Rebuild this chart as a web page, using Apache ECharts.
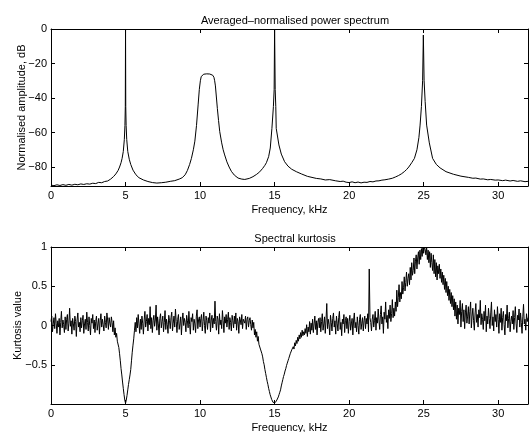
<!DOCTYPE html>
<html>
<head>
<meta charset="utf-8">
<script src="https://cdn.jsdelivr.net/npm/echarts@6/dist/echarts.min.js"></script>
<style>
  html, body { margin: 0; padding: 0; background: #fff; }
  #chart { width: 529px; height: 432px; }
</style>
</head>
<body>
<div id="chart"></div>
<script>
// top plot: averaged-normalised power spectrum (kHz, dB)
var specFreq = [
  0.0, 0.2, 0.4, 0.6, 0.8, 1.0, 1.2, 1.4, 1.6, 1.8, 2.0, 2.2, 2.4, 2.6, 2.8, 3.0, 3.2, 3.4, 3.6, 3.8,
  4.0, 4.2, 4.35, 4.5, 4.6, 4.7, 4.77, 4.85, 4.92, 4.96, 4.985, 5.0, 5.015, 5.04, 5.08, 5.15, 5.25, 5.35, 5.5, 5.7, 5.9,
  6.2, 6.5, 6.8, 7.1, 7.4, 7.7, 8.0, 8.3, 8.6, 8.8, 9.0, 9.15, 9.3, 9.42, 9.55, 9.65, 9.76, 9.87, 9.95,
  10.02, 10.08, 10.15, 10.25, 10.35, 10.45, 10.55, 10.65, 10.75, 10.85, 10.93, 10.98, 11.03, 11.1, 11.16, 11.24, 11.32,
  11.45, 11.55, 11.65, 11.8, 11.95, 12.1, 12.3, 12.55, 12.8, 13.0, 13.3, 13.55, 13.8, 14.0, 14.2, 14.35, 14.45, 14.6,
  14.71, 14.82, 14.92, 14.97, 15.0, 15.04, 15.08, 15.11, 15.29, 15.45, 15.67, 15.9, 16.15, 16.46, 16.8, 17.2, 17.8,
  18.1, 18.4, 18.7, 19.1, 19.4, 19.6, 19.8, 20.0, 20.2, 20.4, 20.6, 20.8, 21.0, 21.2, 21.4, 21.6, 21.8, 22.0, 22.2, 22.4,
  22.65, 22.9, 23.1, 23.3, 23.5, 23.7, 23.85, 24.0, 24.2, 24.38, 24.55, 24.68, 24.76, 24.85, 24.93, 24.98, 25.03, 25.1,
  25.2, 25.38, 25.6, 25.85, 26.1, 26.5, 27.0, 27.5, 28.0, 28.3, 28.5, 28.8, 29.0, 29.3, 29.5, 29.8, 30.0, 30.3, 30.5,
  30.8, 31.0, 31.3, 31.5, 31.8, 32.0
];
var specDb = [
  -90.5, -90.8, -90.3, -90.7, -90.2, -90.6, -90.1, -90.5, -90.0, -90.3, -89.8, -90.1, -89.7, -89.9, -89.4, -89.6, -88.9, -89.1, -88.4, -88.1,
  -87.0, -85.5, -84.0, -82.0, -80.0, -77.5, -75.0, -71.0, -64.0, -56.0, -45.0, 0.0, -45.0, -56.0, -64.0, -71.0, -75.5, -78.5, -81.8, -84.5, -86.2,
  -87.5, -88.4, -89.0, -89.3, -89.1, -88.8, -88.3, -87.9, -87.0, -86.2, -84.5, -82.0, -78.5, -75.0, -70.0, -65.0, -56.0, -44.0, -35.0,
  -30.0, -27.5, -26.6, -26.2, -26.5, -26.0, -26.4, -26.1, -26.5, -26.8, -28.0, -30.0, -33.0, -40.0, -46.0, -53.0, -59.5,
  -66.0, -70.0, -73.0, -77.0, -80.0, -82.5, -84.7, -86.4, -87.0, -87.2, -86.6, -85.6, -84.2, -82.8, -80.8, -79.0, -77.5, -74.0,
  -69.0, -57.6, -45.0, -35.0, 0.0, -35.0, -45.0, -57.6, -67.2, -72.5, -76.9, -79.5, -81.3, -82.7, -84.0, -85.4, -86.6,
  -86.9, -87.5, -87.3, -88.0, -88.4, -88.2, -88.8, -89.0, -88.6, -89.1, -88.7, -89.2, -88.8, -88.9, -88.4, -88.6, -88.1, -88.0, -87.6, -87.4,
  -87.0, -86.5, -85.8, -85.0, -84.0, -82.7, -81.5, -80.0, -77.5, -75.0, -70.0, -63.0, -55.7, -45.0, -30.0, -3.5, -30.0, -42.0,
  -55.7, -66.0, -75.0, -78.5, -80.5, -82.7, -84.2, -85.3, -86.0, -86.5, -86.4, -87.0, -86.9, -87.4, -87.2, -87.6, -87.5, -87.9, -87.6,
  -88.1, -87.8, -88.3, -88.0, -88.5, -88.3
];

// bottom plot: spectral kurtosis, one value every 0.05 kHz from 0 to 32 kHz (one row per kHz)
var kurtStep = 0.05;
var kurtValues = [
  0.05, 0.12, -0.08, 0.02, 0.10, -0.04, 0.15, 0.03, -0.10, 0.06, -0.02, 0.09, -0.12, 0.04, 0.18, -0.03, 0.07, 0.01, -0.09, 0.11,
  -0.05, 0.08, 0.14, -0.07, 0.03, 0.22, -0.01, 0.06, -0.11, 0.09, 0.02, -0.06, 0.12, 0.05, -0.14, 0.07, 0.16, -0.02, 0.04, -0.08,
  0.10, -0.03, 0.06, 0.13, -0.10, 0.02, 0.08, -0.05, 0.17, 0.04, -0.07, 0.11, 0.00, -0.12, 0.09, 0.03, 0.14, -0.04, 0.07, -0.09,
  0.05, 0.12, -0.06, 0.02, 0.09, -0.11, 0.06, 0.15, -0.02, 0.08, 0.01, -0.07, 0.12, 0.04, -0.03, 0.16, 0.07, -0.05, 0.10, 0.03,
  -0.02, 0.11, 0.04, -0.08, 0.06, -0.12, -0.03, -0.15, -0.10, -0.20, -0.22, -0.28, -0.36, -0.45, -0.55, -0.63, -0.72, -0.80, -0.88, -0.95,
  -0.99, -0.95, -0.89, -0.82, -0.75, -0.69, -0.63, -0.56, -0.45, -0.34, -0.25, -0.17, -0.06, 0.04, -0.08, 0.10, -0.03, 0.14, 0.02, -0.10,
  0.08, -0.05, 0.12, 0.03, -0.11, 0.07, 0.18, -0.02, 0.05, 0.14, -0.07, 0.09, 0.01, 0.24, -0.04, 0.10, -0.09, 0.06, 0.13, -0.01,
  0.07, 0.26, -0.06, 0.11, 0.02, -0.12, 0.09, 0.15, -0.03, 0.05, 0.12, -0.08, 0.04, 0.19, -0.05, 0.08, 0.01, -0.10, 0.13, 0.06,
  -0.04, 0.10, 0.17, -0.07, 0.03, 0.12, -0.02, 0.21, 0.05, -0.09, 0.08, 0.14, -0.05, 0.02, 0.11, -0.12, 0.07, 0.16, 0.00, 0.09,
  0.04, -0.08, 0.13, 0.06, -0.03, 0.18, 0.01, -0.11, 0.10, 0.05, 0.15, -0.06, 0.08, 0.02, -0.09, 0.12, 0.20, -0.04, 0.07, 0.11,
  -0.02, 0.09, 0.14, -0.07, 0.05, 0.17, 0.00, -0.10, 0.12, 0.06, -0.05, 0.10, 0.03, 0.16, -0.08, 0.07, 0.13, -0.03, 0.09, 0.02,
  0.31, 0.05, -0.06, 0.12, 0.08, -0.11, 0.15, 0.01, 0.07, -0.04, 0.19, 0.06, -0.09, 0.11, 0.03, 0.14, -0.02, 0.08, 0.17, -0.05,
  0.10, 0.04, -0.07, 0.13, 0.06, -0.03, 0.12, 0.02, 0.16, -0.06, 0.09, 0.05, -0.10, 0.11, 0.07, 0.01, 0.14, -0.04, 0.08, 0.10,
  0.03, 0.12, -0.05, 0.08, 0.11, -0.02, 0.06, 0.10, 0.01, -0.06, 0.07, -0.03, 0.04, -0.12, -0.05, -0.15, -0.08, -0.20, -0.14, -0.24,
  -0.22, -0.30, -0.28, -0.36, -0.40, -0.46, -0.50, -0.56, -0.61, -0.66, -0.71, -0.75, -0.80, -0.84, -0.88, -0.91, -0.94, -0.96, -0.98, -0.99,
  -0.99, -0.98, -0.97, -0.95, -0.93, -0.91, -0.88, -0.85, -0.82, -0.77, -0.73, -0.69, -0.65, -0.62, -0.58, -0.55, -0.51, -0.48, -0.45, -0.42,
  -0.40, -0.36, -0.38, -0.31, -0.33, -0.27, -0.30, -0.22, -0.26, -0.19, -0.23, -0.15, -0.20, -0.12, -0.17, -0.09, -0.15, -0.06, -0.13, -0.08,
  -0.12, -0.04, -0.10, 0.01, -0.14, -0.02, -0.08, 0.05, -0.11, 0.03, -0.06, 0.08, -0.09, 0.02, 0.12, -0.05, 0.06, -0.12, 0.04, 0.09,
  -0.03, 0.10, -0.08, 0.05, 0.15, -0.06, 0.02, 0.11, -0.10, 0.07, 0.28, -0.04, 0.08, 0.01, -0.12, 0.13, 0.04, -0.07, 0.09, 0.16,
  -0.02, 0.06, -0.11, 0.12, 0.03, -0.07, 0.10, 0.18, -0.05, 0.04, -0.13, 0.08, 0.02, 0.14, -0.09, 0.06, 0.11, -0.04, 0.09, -0.10,
  0.05, 0.13, -0.06, 0.02, 0.09, -0.12, 0.07, 0.16, -0.03, 0.04, -0.08, 0.11, 0.00, -0.11, 0.08, 0.14, -0.05, 0.03, 0.10, -0.07,
  0.06, 0.12, -0.04, 0.09, 0.02, 0.15, -0.08, 0.72, 0.10, 0.04, -0.07, 0.08, 0.14, -0.02, 0.06, 0.18, -0.06, 0.10, 0.03, 0.21,
  0.07, -0.05, 0.14, 0.25, 0.02, 0.11, -0.10, 0.17, 0.08, 0.30, 0.04, 0.13, -0.04, 0.20, 0.09, 0.26, 0.05, 0.15, 0.33, 0.10,
  0.22, 0.12, 0.30, 0.18, 0.45, 0.24, 0.36, 0.52, 0.30, 0.42, 0.34, 0.56, 0.40, 0.48, 0.62, 0.44, 0.55, 0.68, 0.50, 0.60,
  0.66, 0.52, 0.74, 0.58, 0.80, 0.64, 0.70, 0.86, 0.66, 0.82, 0.90, 0.72, 0.86, 0.94, 0.78, 0.96, 0.84, 0.98, 0.88, 1.00,
  0.92, 1.00, 0.97, 0.90, 1.00, 0.84, 0.96, 0.80, 0.94, 0.74, 0.92, 0.80, 0.70, 0.90, 0.66, 0.84, 0.62, 0.80, 0.58, 0.76,
  0.66, 0.78, 0.60, 0.72, 0.55, 0.68, 0.52, 0.64, 0.46, 0.60, 0.42, 0.56, 0.38, 0.50, 0.32, 0.46, 0.28, 0.42, 0.24, 0.38,
  0.20, 0.34, 0.12, 0.30, 0.08, 0.26, 0.02, 0.22, 0.14, 0.32, -0.02, 0.18, 0.28, 0.05, 0.20, -0.04, 0.16, 0.26, 0.03, 0.12,
  0.24, 0.02, 0.18, 0.30, -0.03, 0.12, 0.22, 0.06, -0.06, 0.16, 0.28, 0.04, 0.14, -0.02, 0.20, 0.10, 0.32, 0.01, 0.15, 0.08,
  -0.05, 0.18, 0.06, 0.26, -0.08, 0.12, 0.02, 0.22, 0.09, -0.04, 0.16, 0.30, 0.00, 0.11, -0.07, 0.20, 0.05, 0.14, -0.02, 0.24,
  0.08, -0.10, 0.15, 0.04, 0.22, -0.06, 0.10, 0.18, 0.01, -0.12, 0.14, 0.06, 0.26, -0.03, 0.09, 0.17, -0.08, 0.05, 0.12, 0.02,
  0.19, -0.05, 0.10, 0.24, 0.03, -0.09, 0.13, 0.07, 0.21, -0.02, 0.16, 0.04, -0.10, 0.11, 0.27, 0.02, 0.08, -0.06, 0.15, 0.05,
  0.10
];

var dbTicks = [-80, -60, -40, -20, 0];
var kurtTicks = [-0.5, 0, 0.5, 1];

var font = 'Liberation Sans, Arial, Helvetica, sans-serif';

var specData = specFreq.map(function (f, i) { return [f, specDb[i]]; });
var kurtData = kurtValues.map(function (v, i) { return [+(i * kurtStep).toFixed(2), v]; });

function xAx(grid, pos, withLabels) {
  return {
    type: 'value', gridIndex: grid, position: pos, min: 0, max: 32, interval: 5,
    name: withLabels ? 'Frequency, kHz' : '', nameLocation: 'middle', nameGap: 18, nameMoveOverlap: false,
    nameTextStyle: { fontFamily: font, fontSize: 11, color: '#000' },
    axisLine: { show: true, onZero: false, lineStyle: { color: '#000', width: 1 } },
    axisTick: { show: true, inside: true, length: 4, lineStyle: { color: '#000' } },
    axisLabel: { show: withLabels, margin: 4, fontFamily: font, fontSize: 11, color: '#000',
      showMinLabel: true, showMaxLabel: false },
    splitLine: { show: false }
  };
}

function yAx(grid, pos, min, max, ticks, name, gap, withLabels) {
  return {
    type: 'value', gridIndex: grid, position: pos, min: min, max: max,
    name: withLabels ? name : '', nameLocation: 'middle', nameGap: gap, nameMoveOverlap: false,
    nameTextStyle: { fontFamily: font, fontSize: 11, color: '#000' },
    axisLine: { show: true, onZero: false, lineStyle: { color: '#000', width: 1 } },
    axisTick: { show: true, inside: true, length: 4, customValues: ticks, lineStyle: { color: '#000' } },
    axisLabel: { show: withLabels, margin: 4, fontFamily: font, fontSize: 11, color: '#000',
      customValues: ticks,
      formatter: function (v) { return String(v).replace('-', '\u2212'); } },
    splitLine: { show: false }
  };
}

var chart = echarts.init(document.getElementById('chart'), null, { renderer: 'canvas' });
chart.setOption({
  animation: false,
  backgroundColor: '#fff',
  title: [
    { text: 'Averaged\u2013normalised power spectrum', left: 290, top: 10, textAlign: 'center',
      textStyle: { fontFamily: font, fontSize: 11, fontWeight: 'normal', color: '#000' } },
    { text: 'Spectral kurtosis', left: 290, top: 228, textAlign: 'center',
      textStyle: { fontFamily: font, fontSize: 11, fontWeight: 'normal', color: '#000' } }
  ],
  grid: [
    { left: 51, right: 1, top: 29, height: 157, containLabel: false, outerBoundsMode: 'none' },
    { left: 51, right: 1, top: 247, height: 157, containLabel: false, outerBoundsMode: 'none' }
  ],
  xAxis: [
    xAx(0, 'bottom', true),
    xAx(0, 'top', false),
    xAx(1, 'bottom', true),
    xAx(1, 'top', false)
  ],
  yAxis: [
    yAx(0, 'left', -91, 0, dbTicks, 'Normalised amplitude, dB', 24, true),
    yAx(0, 'right', -91, 0, dbTicks, '', 0, false),
    yAx(1, 'left', -1, 1, kurtTicks, 'Kurtosis value', 28, true),
    yAx(1, 'right', -1, 1, kurtTicks, '', 0, false)
  ],
  series: [
    { type: 'line', xAxisIndex: 0, yAxisIndex: 0, data: specData, showSymbol: false, symbol: 'none',
      lineStyle: { color: '#000', width: 1 } },
    { type: 'line', xAxisIndex: 2, yAxisIndex: 2, data: kurtData, showSymbol: false, symbol: 'none',
      lineStyle: { color: '#000', width: 1 } }
  ]
});
</script>
</body>
</html>
